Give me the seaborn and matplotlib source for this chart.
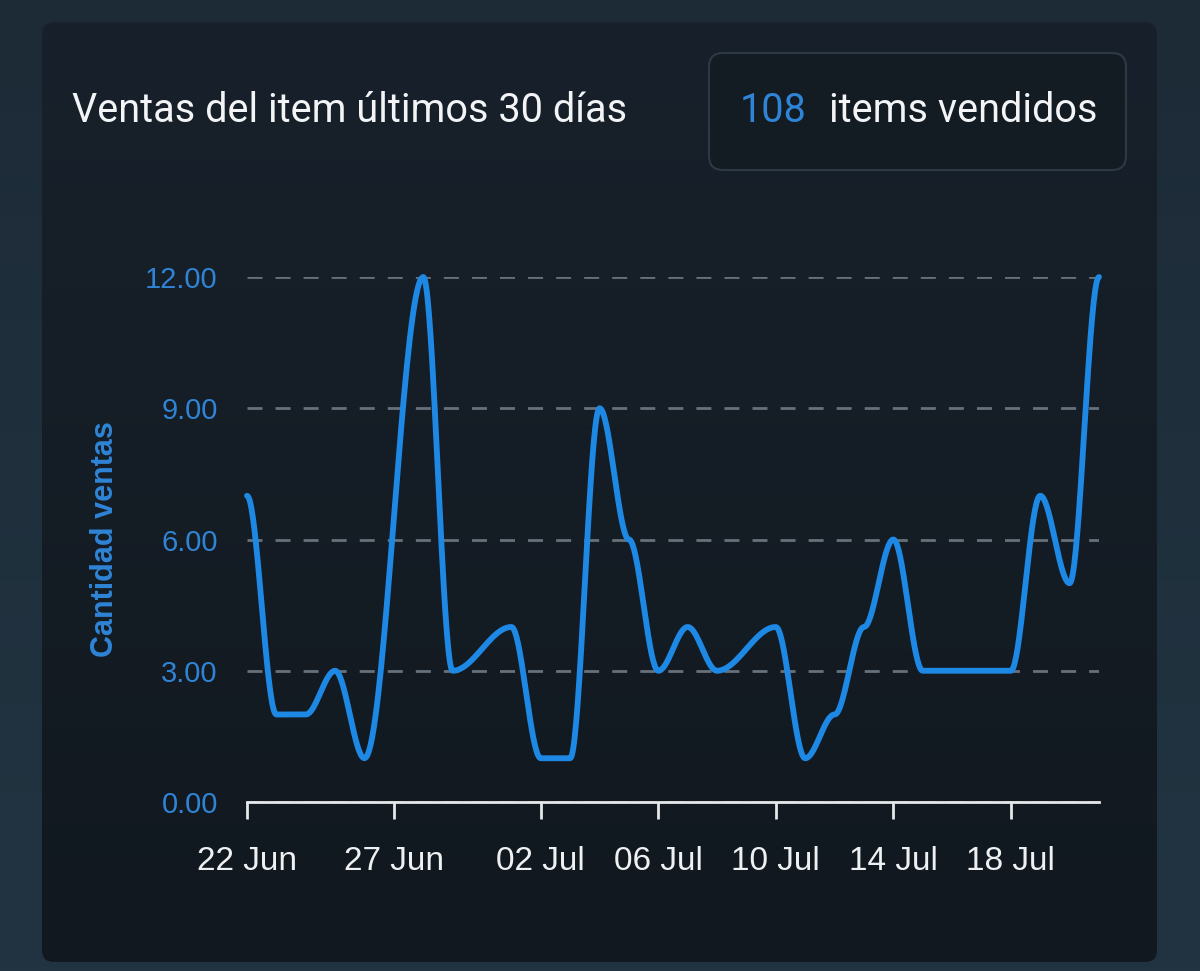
import numpy as np
import pandas as pd
import matplotlib
matplotlib.use("Agg")
import matplotlib.pyplot as plt
import matplotlib.dates as mdates
from matplotlib.patches import FancyBboxPatch
from matplotlib.colors import LinearSegmentedColormap
import seaborn as sns

# sales per day (only days with sales are points of the series)
sale_dates = ["2023-06-22", "2023-06-23", "2023-06-24", "2023-06-25", "2023-06-26",
              "2023-06-28", "2023-06-29", "2023-07-01", "2023-07-02", "2023-07-03",
              "2023-07-04", "2023-07-05", "2023-07-06", "2023-07-07", "2023-07-08",
              "2023-07-10", "2023-07-11", "2023-07-12", "2023-07-13", "2023-07-14",
              "2023-07-15", "2023-07-18", "2023-07-19", "2023-07-20", "2023-07-21"]
sales = [7, 2, 2, 3, 1,
         12, 3, 4, 1, 1,
         9, 6, 3, 4, 3,
         4, 1, 2, 4, 6,
         3, 3, 7, 5, 12]
tick_dates = ["2023-06-22", "2023-06-27", "2023-07-02", "2023-07-06",
              "2023-07-10", "2023-07-14", "2023-07-18"]
y_ticks = [0, 3, 6, 9, 12]

BLUE = "#1E88E5"
BLUE_TXT = "#2f84d6"
OUTER = "#1f2f3c"


def smooth_curve(x, y, steps=40, k=0.35):
    # bezier per segment, control points offset horizontally (flat at each point)
    xs, ys = [], []
    for i in range(len(x) - 1):
        x0, x1, y0, y1 = x[i], x[i + 1], y[i], y[i + 1]
        d = (x1 - x0) * k
        t = np.linspace(0, 1, steps, endpoint=(i == len(x) - 2))
        a, b, c, e = (1 - t)**3, 3 * (1 - t)**2 * t, 3 * (1 - t) * t**2, t**3
        xs.append(a * x0 + b * (x0 + d) + c * (x1 - d) + e * x1)
        ys.append(a * y0 + b * y0 + c * y1 + e * y1)
    return np.concatenate(xs), np.concatenate(ys)


xnum = mdates.date2num(pd.to_datetime(sale_dates))
cx, cy = smooth_curve(xnum, sales)
curve = pd.DataFrame({"fecha": cx, "ventas": cy})

sns.set_style("dark", {"axes.facecolor": "none", "figure.facecolor": OUTER})

fig = plt.figure(figsize=(12, 9.71), dpi=100)
fig.patch.set_facecolor(OUTER)

# background: page gradient + card gradient (pixel coordinates)
bg = fig.add_axes([0, 0, 1, 1], zorder=-5)
bg.set_xlim(0, 1200)
bg.set_ylim(0, 971)
bg.axis("off")
page_cmap = LinearSegmentedColormap.from_list("page", ["#1d2b37", "#223442"])
card_cmap = LinearSegmentedColormap.from_list("card", ["#18212b", "#11181f"])
ramp = np.linspace(0, 1, 256).reshape(-1, 1)
bg.imshow(ramp, cmap=page_cmap, extent=[0, 1200, 0, 971], origin="upper", aspect="auto")
card = FancyBboxPatch((42, 9), 1115, 940, boxstyle="round,pad=0,rounding_size=12",
                      facecolor="none", edgecolor="none")
bg.add_patch(card)
card_img = bg.imshow(ramp, cmap=card_cmap, extent=[42, 1157, 9, 949],
                     origin="upper", aspect="auto")
card_img.set_clip_path(card)
bg.add_patch(FancyBboxPatch((709, 801), 417, 117, boxstyle="round,pad=0,rounding_size=14",
                            facecolor="#131b23", edgecolor="#2d3945", linewidth=1.5))
bg.set_xlim(0, 1200)
bg.set_ylim(0, 971)

fig.text(72 / 1200, 1 - 111 / 971, "Ventas del item últimos 30 días",
         family="Roboto", fontsize=28.5, color="#f2f4f6", va="center", ha="left")
fig.text(740 / 1200, 1 - 111 / 971, str(sum(sales)),
         family="Roboto", fontsize=28.5, color=BLUE_TXT, va="center", ha="left")
fig.text(829 / 1200, 1 - 111 / 971, "items vendidos",
         family="Roboto", fontsize=28.5, color="#f2f4f6", va="center", ha="left")

ax = fig.add_axes([247 / 1200, 1 - 802 / 971, 852 / 1200, 525 / 971])
ax.set_facecolor("none")
ax.set_zorder(2)

sns.lineplot(data=curve, x="fecha", y="ventas", color=BLUE, linewidth=4.2,
             estimator=None, sort=False, ax=ax, clip_on=False, zorder=3)

ax.set_xlim(xnum[0], xnum[-1])
ax.set_ylim(0, 12)

tnum = mdates.date2num(pd.to_datetime(tick_dates))
ax.set_xticks(tnum)
ax.set_xticklabels([d.strftime("%d %b") for d in pd.to_datetime(tick_dates)],
                   family="Liberation Sans", fontsize=24, color="#eef0f2")
ax.set_yticks(y_ticks)
ax.set_yticklabels([f"{v:.2f}" for v in y_ticks],
                   family="Liberation Sans", fontsize=21, color=BLUE_TXT)

ax.tick_params(axis="x", bottom=True, length=12, width=2, color="#e6e8ea",
               pad=20, direction="out")
ax.tick_params(axis="y", left=False, length=0, pad=21)

ax.yaxis.grid(True, color="#67717b", linewidth=2, linestyle=(0, (5.4, 4.7)))
ax.xaxis.grid(False)
for side in ["top", "right", "left"]:
    ax.spines[side].set_visible(False)
ax.spines["bottom"].set_color("#e6e8ea")
ax.spines["bottom"].set_linewidth(2)
ax.spines["bottom"].set_zorder(4)

ax.set_xlabel("")
ax.set_ylabel("Cantidad ventas", family="Liberation Sans", fontweight="bold",
              fontsize=22, color=BLUE_TXT, labelpad=18)

fig.savefig("out.png", dpi=100, facecolor=OUTER)
